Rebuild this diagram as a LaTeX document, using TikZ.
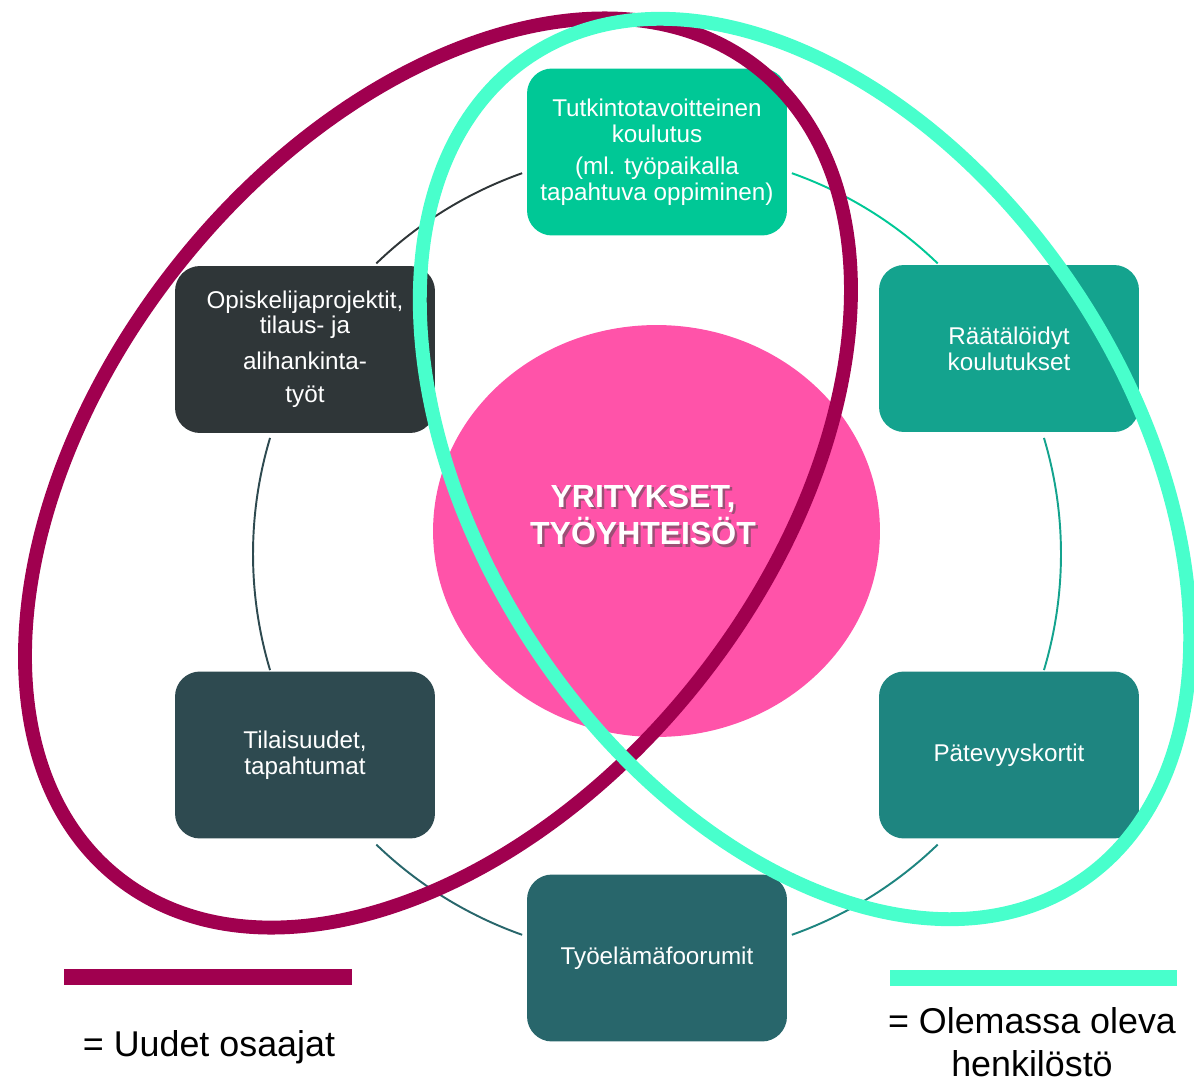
\documentclass[tikz,border=0pt]{standalone}
\usepackage{fontspec}
\setmainfont{Liberation Sans}
\usetikzlibrary{shapes.geometric}

\definecolor{c1}{HTML}{00C896}
\definecolor{c2}{HTML}{14A38E}
\definecolor{c3}{HTML}{1E8580}
\definecolor{c4}{HTML}{28666B}
\definecolor{c5}{HTML}{2E4A50}
\definecolor{c6}{HTML}{2F3638}
\definecolor{pinkc}{HTML}{FF53A9}
\definecolor{maroon}{HTML}{A0004F}
\definecolor{aqua}{HTML}{48FFCC}

\begin{document}
\begin{tikzpicture}[x=0.02cm, y=0.02cm,
  box/.style={rounded corners=0.5cm, minimum width=5.2cm, minimum height=3.34cm,
    text=white, align=center, inner sep=0pt, font=\fontsize{13.8}{14.9}\selectfont},
  link/.style={line width=1.1pt},
  ring/.style={line width=7.9pt}]
\useasboundingbox (0,0) rectangle (1194,-1081);
\coordinate (m) at (657,-554);
\node[ellipse, fill=pinkc, minimum width=8.94cm, minimum height=8.24cm, inner sep=0pt] (c) at (656.5,-531) {};
\node[text=black!70, opacity=0.55, align=center, font=\fontsize{18.2}{21.5}\selectfont\bfseries] (ts) at (645.5,-517.5) {YRITYKSET,\\TYÖYHTEISÖT};
\node[text=white, align=center, font=\fontsize{18.2}{21.5}\selectfont\bfseries] (t) at (643,-515) {YRITYKSET,\\TYÖYHTEISÖT};
\node[box, fill=c1] (1) at (657,-152) {Tutkintotavoitteinen\\koulutus\\[3.2pt](ml. työpaikalla\\tapahtuva oppiminen)};
\node[box, fill=c2] (2) at (1009,-348.5) {Räätälöidyt\\koulutukset};
\node[box, fill=c3] (3) at (1009,-755) {Pätevyyskortit};
\node[box, fill=c4] (4) at (657,-958) {Työelämäfoorumit};
\node[box, fill=c5] (5) at (305,-755) {Tilaisuudet,\\tapahtumat};
\node[box, fill=c6] (6) at (305,-349.5) {Opiskelijaprojektit,\\[-1pt]tilaus- ja\\[6.1pt]alihankinta-\\[3.8pt]työt};
\draw (m) ++(134:404) arc[start angle=134, end angle=109.5, radius=404] [link, c6];
\draw (m) ++(70.5:404) arc[start angle=70.5, end angle=46, radius=404] [link, c1];
\draw (m) ++(16.7:404) arc[start angle=16.7, end angle=-16.7, radius=404] [link, c2];
\draw (m) ++(-46:404) arc[start angle=-46, end angle=-70.5, radius=404] [link, c3];
\draw (m) ++(-109.5:404) arc[start angle=-109.5, end angle=-134, radius=404] [link, c4];
\draw (m) ++(196.7:404) arc[start angle=196.7, end angle=163.3, radius=404] [link, c5];
\coordinate (uo) at (438,-473);
\coordinate (ao) at (805,-469);
\draw[rotate around={51.7:(uo)}] (uo) ellipse [x radius=516, y radius=333] [ring, maroon];
\draw[rotate around={-56.3:(ao)}] (ao) ellipse [x radius=496, y radius=324] [ring, aqua];
\coordinate (u1) at (64,-977);
\coordinate (u2) at (352,-977);
\coordinate (a1) at (890,-977.5);
\coordinate (a2) at (1177,-977.5);
\draw (u1) -- (u2) [maroon, line width=9.1pt];
\draw (a1) -- (a2) [aqua, line width=9.1pt];
\node[anchor=base, inner sep=0pt, font=\fontsize{20.4}{24.4}\selectfont] (ul) at (209,-1056) {= Uudet osaajat};
\node[align=center, inner sep=0pt, font=\fontsize{20.4}{24.4}\selectfont] (al) at (1032,-1042) {= Olemassa oleva\\henkilöstö};
\end{tikzpicture}
\end{document}
